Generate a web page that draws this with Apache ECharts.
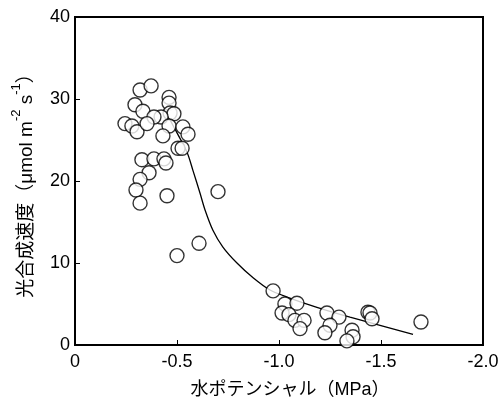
<!DOCTYPE html>
<html>
<head>
<meta charset="utf-8">
<script src="https://cdn.jsdelivr.net/npm/echarts@6/dist/echarts.min.js"></script>
<style>
  html, body { margin: 0; padding: 0; background: #fff; }
  #chart { width: 501px; height: 401px; }
</style>
</head>
<body>
<div id="chart"></div>
<script>
// 観測値 (水ポテンシャル MPa, 光合成速度)
var obsX = [-0.319, -0.373, -0.461, -0.461, -0.294, -0.333, -0.466, -0.485, -0.422, -0.387,
  -0.245, -0.279, -0.304, -0.353, -0.461, -0.529, -0.554, -0.431, -0.505, -0.525,
  -0.328, -0.387, -0.436, -0.446, -0.363, -0.319, -0.299, -0.319, -0.451, -0.701,
  -0.608, -0.500,
  -0.971, -1.029, -1.015, -1.088, -1.049, -1.078, -1.123, -1.103, -1.235, -1.294,
  -1.250, -1.225, -1.358, -1.363, -1.333, -1.436, -1.446, -1.456, -1.696];
var obsY = [31.1, 31.6, 30.2, 29.5, 29.3, 28.5, 28.3, 28.2, 27.8, 27.8,
  27.0, 26.7, 26.0, 27.0, 26.7, 26.6, 25.7, 25.5, 24.0, 24.0,
  22.6, 22.7, 22.7, 22.2, 21.0, 20.2, 18.9, 17.3, 18.2, 18.7,
  12.4, 10.9,
  6.6, 5.0, 3.9, 5.1, 3.7, 3.0, 3.0, 2.0, 3.9, 3.4,
  2.4, 1.5, 1.8, 1.0, 0.5, 4.0, 3.9, 3.2, 2.8];

// 回帰曲線
var fitX = [-0.465, -0.480, -0.549, -0.578, -0.613, -0.637, -0.676, -0.725, -0.794, -0.873,
  -0.956, -1.039, -1.186, -1.348, -1.657];
var fitY = [27.5, 26.8, 23.5, 21.3, 18.5, 16.5, 14.0, 11.95, 10.0, 8.2,
  6.7, 5.85, 4.6, 3.4, 1.3];

var myChart = echarts.init(document.getElementById('chart'));

var font = 'Liberation Sans, Arial, Noto Sans CJK JP, sans-serif';

myChart.setOption({
  animation: false,
  grid: {
    left: 75, right: 18, top: 17, bottom: 56,
    outerBoundsMode: 'none',
    show: true,
    borderColor: '#000',
    borderWidth: 2
  },
  xAxis: {
    type: 'value',
    min: -2, max: 0,
    interval: 0.5,
    inverse: true,
    name: '水ポテンシャル（MPa）',
    nameLocation: 'middle',
    nameGap: 36,
    nameTextStyle: { color: '#000', fontSize: 18, fontFamily: font, padding: [0, 0, 0, 22] },
    axisLine: { lineStyle: { color: '#000', width: 2 } },
    axisTick: { inside: true, length: 5, lineStyle: { color: '#000', width: 1 } },
    splitLine: { show: false },
    axisLabel: {
      color: '#000', fontSize: 18, fontFamily: font, margin: 8,
      formatter: function (v) { return v === 0 ? '0' : v.toFixed(1); }
    }
  },
  yAxis: {
    type: 'value',
    min: 0, max: 40,
    interval: 10,
    name: '{t|光合成速度（μmol m}{s|-2}{t| s}{s|-1}{t|）}',
    nameLocation: 'middle',
    nameGap: 39,
    nameRotate: 90,
    nameTextStyle: {
      color: '#000', fontFamily: font,
      rich: {
        t: { fontSize: 19, fontFamily: font, color: '#000', lineHeight: 26, verticalAlign: 'bottom' },
        s: { fontSize: 13, fontFamily: font, color: '#000', lineHeight: 26, verticalAlign: 'top' }
      }
    },
    axisLine: { lineStyle: { color: '#000', width: 2 } },
    axisTick: { inside: true, length: 5, lineStyle: { color: '#000', width: 1 } },
    splitLine: { show: false },
    axisLabel: { color: '#000', fontSize: 18, fontFamily: font, margin: 5 }
  },
  series: [
    {
      name: 'fit',
      type: 'line',
      data: fitX.map(function (x, i) { return [x, fitY[i]]; }),
      smooth: 0.3,
      showSymbol: false,
      lineStyle: { color: '#000', width: 1.3 },
      z: 1
    },
    {
      name: 'obs',
      type: 'scatter',
      data: obsX.map(function (x, i) { return [x, obsY[i]]; }),
      symbol: 'circle',
      symbolSize: 14,
      itemStyle: { color: '#fff', borderColor: '#000', borderWidth: 1.4 },
      z: 2
    }
  ]
});
</script>
</body>
</html>
